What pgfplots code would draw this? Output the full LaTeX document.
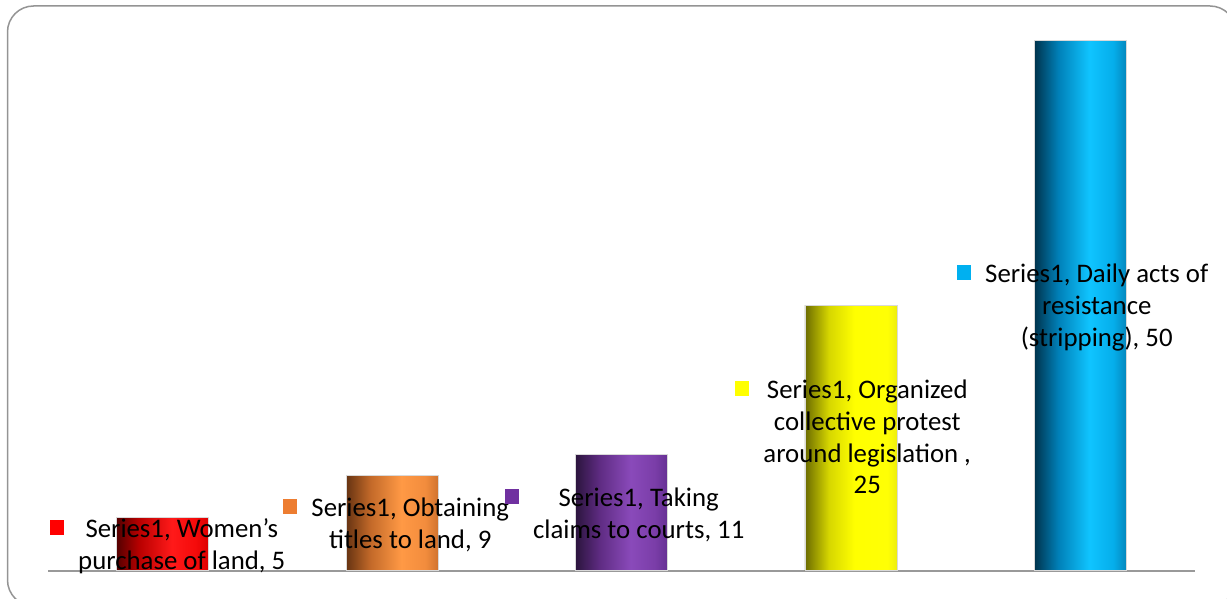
\documentclass[border=0pt]{standalone}
\usepackage{pgfplots}
\pgfplotsset{compat=1.18}
\usepackage{fontspec}
\setmainfont{Carlito}
\definecolor{kred}{HTML}{FF0000}
\definecolor{korange}{HTML}{ED7D31}
\definecolor{kpurple}{HTML}{7030A0}
\definecolor{kyellow}{HTML}{FFFF00}
\definecolor{kblue}{HTML}{00B0F0}
\pgfdeclarehorizontalshading{redbar}{100bp}{rgb(0bp)=(0.33,0,0); rgb(25bp)=(0.33,0,0); rgb(37bp)=(0.72,0,0); rgb(55bp)=(1,0.1,0.1); rgb(68bp)=(0.96,0.04,0.04); rgb(75bp)=(0.86,0,0); rgb(100bp)=(0.86,0,0)}
\pgfdeclarehorizontalshading{orangebar}{100bp}{rgb(0bp)=(0.40,0.20,0.07); rgb(25bp)=(0.40,0.20,0.07); rgb(38bp)=(0.76,0.41,0.16); rgb(55bp)=(1,0.6,0.27); rgb(68bp)=(0.95,0.55,0.24); rgb(75bp)=(0.82,0.45,0.18); rgb(100bp)=(0.82,0.45,0.18)}
\pgfdeclarehorizontalshading{purplebar}{100bp}{rgb(0bp)=(0.17,0.08,0.24); rgb(25bp)=(0.17,0.08,0.24); rgb(38bp)=(0.37,0.17,0.51); rgb(55bp)=(0.54,0.29,0.73); rgb(68bp)=(0.48,0.24,0.66); rgb(75bp)=(0.40,0.19,0.58); rgb(100bp)=(0.40,0.19,0.58)}
\pgfdeclarehorizontalshading{yellowbar}{100bp}{rgb(0bp)=(0.42,0.42,0); rgb(25bp)=(0.42,0.42,0); rgb(38bp)=(0.84,0.84,0); rgb(52bp)=(1,1,0); rgb(70bp)=(1,1,0.02); rgb(75bp)=(0.93,0.93,0.05); rgb(100bp)=(0.93,0.93,0.05)}
\pgfdeclarehorizontalshading{bluebar}{100bp}{rgb(0bp)=(0,0.20,0.30); rgb(25bp)=(0,0.20,0.30); rgb(38bp)=(0,0.50,0.72); rgb(55bp)=(0.06,0.77,1); rgb(68bp)=(0.02,0.68,0.92); rgb(75bp)=(0.02,0.53,0.74); rgb(100bp)=(0.02,0.53,0.74)}
\newcommand{\key}[1]{\textcolor{#1}{\rule[2.5pt]{14.5pt}{14.5pt}}\hspace{14pt}}
\begin{document}
\begin{tikzpicture}
\useasboundingbox (0pt,0pt) rectangle (1227pt,598pt);
\draw[black!42, line width=1.5pt, rounded corners=26pt] (7.5pt,-8pt) rectangle (1236pt,592pt);
\begin{axis}[
  at={(48pt,27.3pt)}, anchor=south west,
  scale only axis, width=1147pt, height=530pt,
  xmin=-0.5, xmax=4.5, ymin=0, ymax=50,
  axis x line=bottom, axis y line=none,
  x axis line style={draw=black!40, line width=2pt, -},
  xtick=\empty, ytick=\empty, clip=false,
]
\addplot[ybar, bar width=92pt, shading=redbar, draw=black!15, line width=0.5pt] coordinates {(0,5)};
\addplot[ybar, bar width=92pt, shading=orangebar, draw=black!15, line width=0.5pt] coordinates {(1,9)};
\addplot[ybar, bar width=92pt, shading=purplebar, draw=black!15, line width=0.5pt] coordinates {(2,11)};
\addplot[ybar, bar width=92pt, shading=yellowbar, draw=black!15, line width=0.5pt] coordinates {(3,25)};
\addplot[ybar, bar width=92pt, shading=bluebar, draw=black!15, line width=0.5pt] coordinates {(4,50)};
\end{axis}
\begin{scope}[every node/.style={anchor=base, inner sep=0pt, font=\fontsize{26.8}{32}\selectfont}]
\node at (167.5pt,61pt) {\key{kred}\begin{tabular}[t]{@{}c@{}}Series1, Women’s\\purchase of land, 5\end{tabular}};
\node at (396pt,82pt) {\key{korange}\begin{tabular}[t]{@{}c@{}}Series1, Obtaining\\titles to land, 9\end{tabular}};
\node at (624.5pt,92pt) {\key{kpurple}\begin{tabular}[t]{@{}c@{}}Series1, Taking\\claims to courts, 11\end{tabular}};
\node at (853pt,200pt) {\key{kyellow}\begin{tabular}[t]{@{}c@{}}Series1, Organized\\collective protest\\around legislation ,\\25\end{tabular}};
\node at (1082.5pt,315.5pt) {\key{kblue}\begin{tabular}[t]{@{}c@{}}Series1, Daily acts of\\resistance\\(stripping), 50\end{tabular}};
\end{scope}
\end{tikzpicture}
\end{document}
